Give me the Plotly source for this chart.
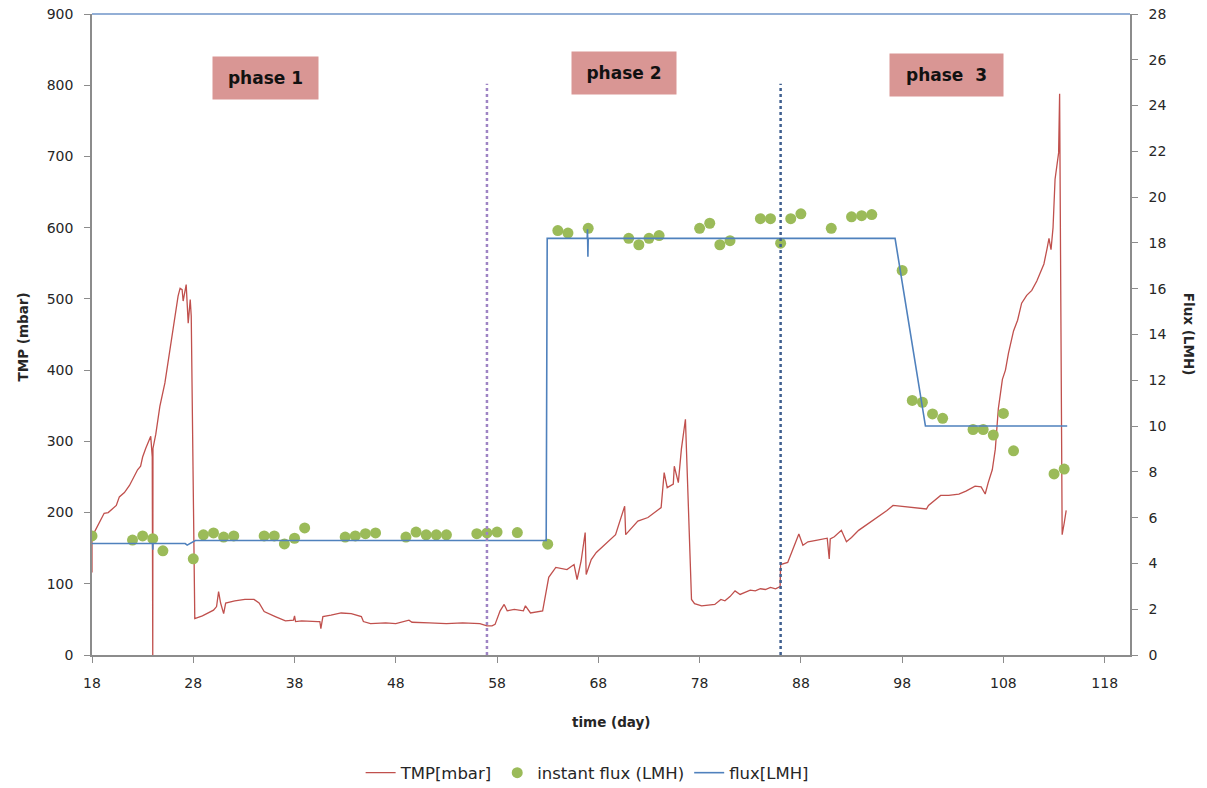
import plotly.graph_objects as go

# TMP record (day, mbar)
tmp_day = [
    18.0, 18.0, 18.25, 18.7, 19.06, 19.2, 19.6, 20.0, 20.4, 20.7, 21.2, 21.7, 22.1, 22.5, 22.8,
    23.0, 23.3, 23.5, 23.8, 23.95, 24.0, 24.02, 24.3, 24.7, 25.2, 25.7, 26.2, 26.5, 26.7,
    26.9, 27.0, 27.3, 27.5, 27.7, 27.8, 28.15,
    28.9, 29.7, 30.0, 30.3, 30.5, 30.7, 31.0, 31.2, 32.1, 33.1, 34.0, 34.5, 35.0, 36.1,
    37.1, 37.9, 38.0, 38.1, 38.7, 40.3, 40.5, 40.6, 40.8, 41.6, 42.6, 43.6, 44.6, 44.8,
    45.5, 47.0, 48.0, 49.3, 49.6, 51.3, 53.0, 54.6, 56.3, 57.0, 57.5,
    57.8, 58.3, 58.7, 59.0, 59.7, 60.6, 60.8, 61.3, 62.5, 62.8, 63.1, 63.8, 64.9, 65.6,
    65.9, 66.3, 66.7, 66.8, 67.3, 67.8, 69.7, 70.6, 70.7, 71.9, 72.9, 74.2, 74.5, 74.8,
    75.4, 75.5, 75.9, 76.2, 76.6, 77.2, 77.5, 78.2, 78.8, 79.5, 80.1, 80.5, 81.0, 81.5,
    82.0, 82.5, 83.0, 83.5, 84.0, 84.5, 85.0, 85.5, 85.95,
    86.0, 86.7, 87.2, 87.8, 88.2, 88.7, 89.5, 90.6, 90.8, 90.9, 91.3, 92.0, 92.5, 93.0,
    93.7, 94.2, 94.7, 95.3, 96.0, 96.5, 97.1, 100.4, 100.6, 101.8, 102.6, 103.6, 104.3,
    105.2, 105.8, 106.2, 106.5, 106.9, 107.2, 107.5, 107.9, 108.2, 108.5, 109.0, 109.4,
    109.8, 110.3, 110.8, 111.3, 112.0, 112.3, 112.5, 112.7, 112.9, 113.1, 113.3, 113.45,
    113.55, 113.8, 114.0, 114.2,
]
tmp_val = [
    116, 168, 173, 185, 194, 199, 200, 205, 210, 222, 228, 238, 248, 260, 265,
    278, 290, 297, 307, 278, 0, 290, 310, 349, 382, 429, 476, 504, 515,
    513, 497, 520, 466, 499, 476, 51,
    55, 61, 63, 68, 89, 73, 58, 73, 76, 78, 78, 73, 61, 54,
    48, 49, 55, 47, 48, 47, 47, 37, 54, 56, 59, 58, 54, 47,
    44, 45, 44, 49, 46, 45, 44, 45, 44, 41, 41,
    43, 62, 71, 62, 64, 62, 69, 59, 62, 88, 109, 123, 120, 127,
    106, 132, 172, 113, 134, 144, 169, 209, 169, 188, 193, 207, 256, 235,
    240, 265, 242, 289, 331, 78, 72, 69, 70, 71, 78, 76, 82, 90,
    85, 88, 91, 90, 93, 92, 95, 93, 96,
    127, 130, 148, 170, 154, 159, 161, 164, 135, 163, 166, 175, 159, 165,
    175, 180, 185, 190, 198, 203, 210, 205, 210, 224, 224, 226, 230,
    237, 236, 226, 242, 260, 289, 346, 387, 400, 424, 455, 470,
    494, 505, 512, 525, 549, 570, 585, 569, 600, 668, 690, 705,
    788, 169, 185, 203,
]

# Set-point flux (day, LMH)
flux_day = [18.0, 23.98, 24.0, 24.02, 27.2, 27.4, 28.2, 62.85, 62.95, 66.9, 66.93, 66.97,
            67.0, 97.3, 100.3, 114.3]
flux_val = [4.87, 4.87, 4.6, 4.87, 4.87, 4.8, 5.0, 5.0, 18.2, 18.2, 18.6, 17.4,
            18.2, 18.2, 10.0, 10.0]

# Instant flux measurements (day, LMH)
inst_day = [18, 22, 23, 24, 25, 28, 29, 30, 31, 32, 35, 36, 37, 38, 39, 43, 44, 45, 46,
            49, 50, 51, 52, 53, 56, 57, 58, 60, 63, 64, 65, 67, 71, 72, 73, 74, 78, 79,
            80, 81, 84, 85, 86, 87, 88, 91, 93, 94, 95, 98, 99, 100, 101, 102, 105, 106,
            107, 108, 109, 113, 114]
inst_val = [5.2, 5.02, 5.2, 5.08, 4.55, 4.2, 5.25, 5.33, 5.15, 5.2, 5.2, 5.2, 4.85, 5.1,
            5.55, 5.15, 5.2, 5.3, 5.33, 5.15, 5.37, 5.25, 5.25, 5.25, 5.3, 5.33, 5.37,
            5.35, 4.84, 18.54, 18.43, 18.64, 18.2, 17.92, 18.2, 18.32, 18.64, 18.86,
            17.92, 18.1, 19.06, 19.06, 17.99, 19.06, 19.27, 18.64, 19.14, 19.19, 19.24,
            16.8, 11.12, 11.04, 10.53, 10.34, 9.85, 9.85, 9.61, 10.55, 8.92, 7.91, 8.12]

# Phase boundaries and labels
phase_bounds = [57, 86]
phase_labels = ["phase 1", "phase 2", "phase  3"]
phase_label_x = [35.1, 70.5, 102.4]
phase_label_y = [810, 817, 814]
phase_label_w = [103, 102, 111]

x_ticks = list(range(18, 119, 10))

RED = "#C0504D"
GREEN = "#9BBB59"
BLUE = "#4F81BD"
AXIS = "#8C8C8C"
TXT = "#262626"
FONT = "DejaVu Sans"

fig = go.Figure()
fig.add_trace(go.Scatter(x=tmp_day, y=tmp_val, name="TMP[mbar]", mode="lines",
                         line=dict(color=RED, width=1.3)))
fig.add_trace(go.Scatter(x=inst_day, y=inst_val, name="instant flux (LMH)", mode="markers",
                         marker=dict(color=GREEN, size=11, line=dict(width=0)), yaxis="y2"))
fig.add_trace(go.Scatter(x=flux_day, y=flux_val, name="flux[LMH]", mode="lines",
                         line=dict(color=BLUE, width=1.6), yaxis="y2"))

# dotted phase separators
for xb, col in zip(phase_bounds, ["#9E84C4", "#3F5F8F"]):
    fig.add_shape(type="line", x0=xb, x1=xb, y0=0, y1=802, xref="x", yref="y",
                  line=dict(color=col, width=2.5, dash="dot"))

# top border of the plot area
fig.add_shape(type="line", x0=0, x1=1, y0=1, y1=1, xref="paper", yref="paper",
              line=dict(color="#6F95C8", width=1.5))

for lbl, lx, ly, lw in zip(phase_labels, phase_label_x, phase_label_y, phase_label_w):
    fig.add_annotation(x=lx, y=ly, xref="x", yref="y", text="<b>%s</b>" % lbl,
                       showarrow=False, bgcolor="#D99694", width=lw, height=40,
                       font=dict(family=FONT, size=17, color="#111111"))

# axis titles
fig.add_annotation(x=0.5, y=-0.1045, xref="paper", yref="paper", text="<b>time (day)</b>",
                   showarrow=False, yanchor="middle",
                   font=dict(family=FONT, size=13.5, color=TXT))
fig.add_annotation(x=-0.0665, y=0.497, xref="paper", yref="paper", text="<b>TMP (mbar)</b>",
                   showarrow=False, textangle=-90, xanchor="center",
                   font=dict(family=FONT, size=13.5, color=TXT))
fig.add_annotation(x=1.0575, y=0.5, xref="paper", yref="paper", text="<b>Flux (LMH)</b>",
                   showarrow=False, textangle=90, xanchor="center",
                   font=dict(family=FONT, size=13.5, color=TXT))

fig.update_layout(
    width=1207, height=788,
    margin=dict(l=92, r=77, t=14, b=133, autoexpand=False),
    paper_bgcolor="white", plot_bgcolor="white",
    font=dict(family=FONT, size=14, color=TXT),
    showlegend=True,
    legend=dict(orientation="h", x=0.477, xanchor="center", y=-0.184, yanchor="middle",
                font=dict(family=FONT, size=16.5, color=TXT), itemwidth=30,
                traceorder="normal"),
    xaxis=dict(range=[18, 120.5], tickvals=x_ticks, showgrid=False, zeroline=False,
               showline=True, linecolor=AXIS, linewidth=1.5, ticks="outside",
               ticklen=6, tickcolor=AXIS, ticklabelstandoff=8, automargin=False),
    yaxis=dict(range=[0, 900], dtick=100, showgrid=False, zeroline=False,
               showline=True, linecolor=AXIS, linewidth=1.5, ticks="outside",
               ticklen=6, tickcolor=AXIS, ticklabelstandoff=8, automargin=False),
    yaxis2=dict(range=[0, 28], dtick=2, overlaying="y", side="right", showgrid=False,
                zeroline=False, showline=True, linecolor=AXIS, linewidth=1.5,
                ticks="outside", ticklen=6, tickcolor=AXIS, ticklabelstandoff=8,
                automargin=False),
)

fig.write_html("out.html")
